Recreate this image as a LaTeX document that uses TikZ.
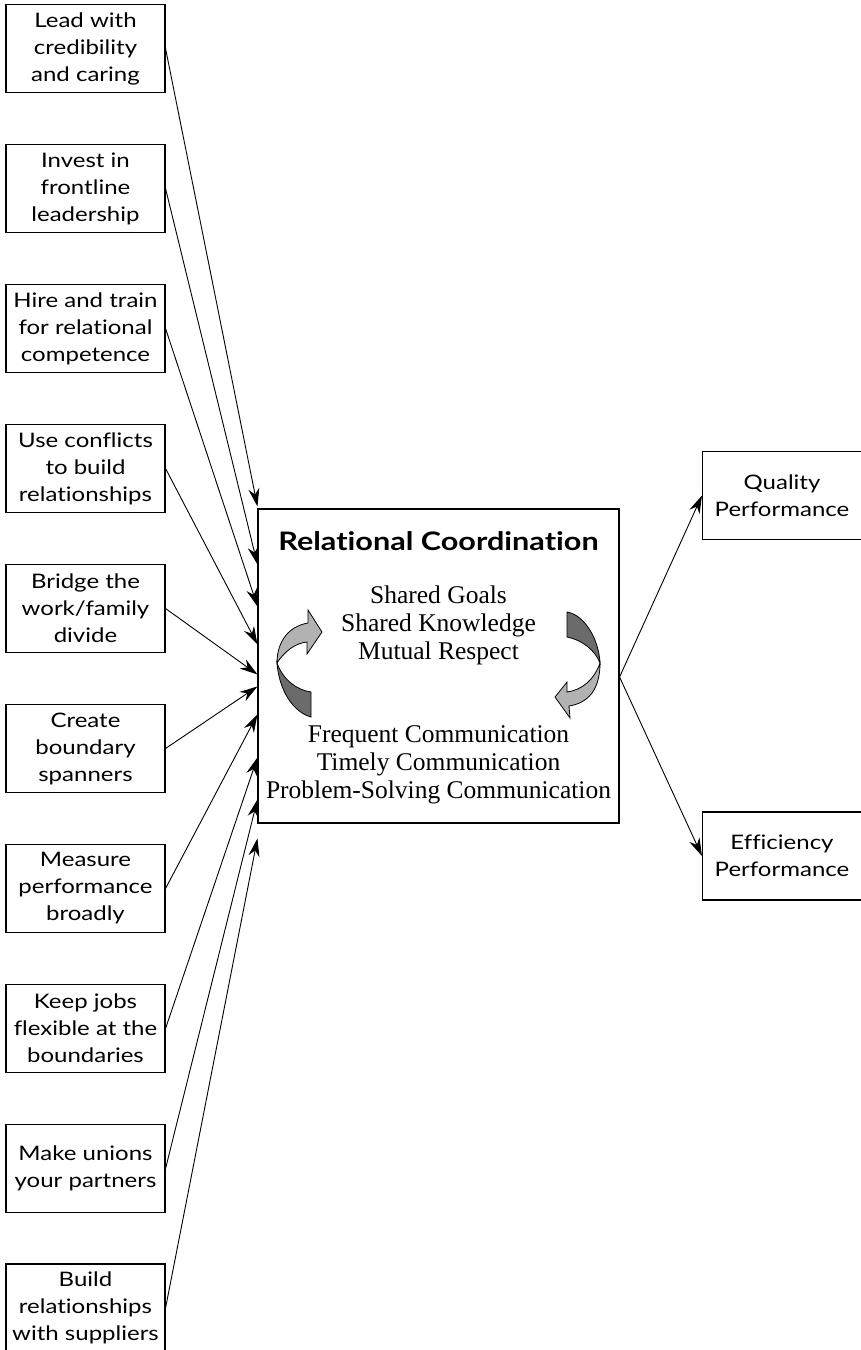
\documentclass[tikz,border=0pt]{standalone}
\usepackage{fontspec}
\newfontfamily\boxfont{Lato}[FakeStretch=1.2, Ligatures={NoCommon}]
\newfontfamily\facetfont{Liberation Serif}
\usetikzlibrary{arrows.meta,calc}

\tikzset{
  driver/.style={draw, line width=1.1pt, minimum width=159pt, minimum height=88pt,
    inner sep=0pt, align=center, font=\boxfont\fontsize{20}{27}\selectfont},
  outcome/.style={driver},
  feeds/.style={line width=0.9pt, -{Stealth[length=18pt,width=11pt]}},
  twist light/.style={draw, line width=0.8pt, fill=black!30},
  twist dark/.style={draw, line width=0.8pt, fill=black!58},
  facet/.style={align=center, font=\facetfont\fontsize{25.5}{28}\selectfont}
}

\begin{document}
\begin{tikzpicture}[x=1pt,y=-1pt]
  \useasboundingbox (0,0) rectangle (860,1350);

  % the ten drivers on the left
  \foreach \n/\y/\txt in {
    1/48.5/{Lead with\\credibility\\and caring},
    2/188.5/{Invest in\\frontline\\leadership},
    3/328.5/{Hire and train\\for relational\\competence},
    4/468.5/{Use conflicts\\to build\\relationships},
    5/608.5/{Bridge the\\work/family\\divide},
    6/748.5/{Create\\boundary\\spanners},
    7/888.5/{Measure\\performance\\broadly},
    8/1028.5/{Keep jobs\\flexible at the\\boundaries},
    9/1168.5/{Make unions\\your partners},
    10/1308/{Build\\relationships\\with suppliers}}
    \node[driver] (d\n) at (85.5,\y) {\txt};

  % relational coordination box
  \node[draw, line width=1.1pt, minimum width=361pt, minimum height=314pt, inner sep=0pt]
    (rc) at (438.5,666) {};
  \node[font=\boxfont\bfseries\fontsize{25.5}{30}\selectfont] (title) at (438.5,541)
    {Relational Coordination};
  \node[facet] (shared) at (438.5,625) {Shared Goals\\Shared Knowledge\\Mutual Respect};
  \node[facet] (comm) at (438.5,765)
    {Frequent Communication\\Timely Communication\\Problem-Solving Communication};

  % twisted arrows
  \draw[twist light] (277,663) .. controls (277,640) and (290,626) .. (308,623)
    -- (308,610) -- (322,632) -- (307,654) -- (307,642)
    .. controls (295,643) and (284,652) .. (277,663) -- cycle;
  \draw[twist dark] (277,663) .. controls (279,690) and (293,712) .. (311,717)
    -- (311,692) .. controls (297,690) and (283,680) .. (277,663) -- cycle;
  \draw[twist dark] (600,663) .. controls (599,640) and (585,615) .. (567,612)
    -- (567,637) .. controls (582,640) and (595,650) .. (600,663) -- cycle;
  \draw[twist light] (600,663) .. controls (600,690) and (588,703) .. (569,706)
    -- (570,718) -- (555,697) -- (567,682) -- (567,692)
    .. controls (582,690) and (594,680) .. (600,663) -- cycle;

  % outcomes
  \node[outcome] (quality) at (782,495.5) {Quality\\Performance};
  \node[outcome] (efficiency) at (782,856) {Efficiency\\Performance};

  \foreach \n/\k in {1/-2,2/56,3/98,4/136,5/166,6/178,7/206,8/249,9/291,10/330}
    \draw[feeds] (d\n.east) -- ($(rc.north west)+(0,\k)$);

  \coordinate (split) at ($(rc.east)+(0,11)$);
  \draw[feeds] (split) -- (quality.west);
  \draw[feeds] (split) -- (efficiency.west);
\end{tikzpicture}
\end{document}
